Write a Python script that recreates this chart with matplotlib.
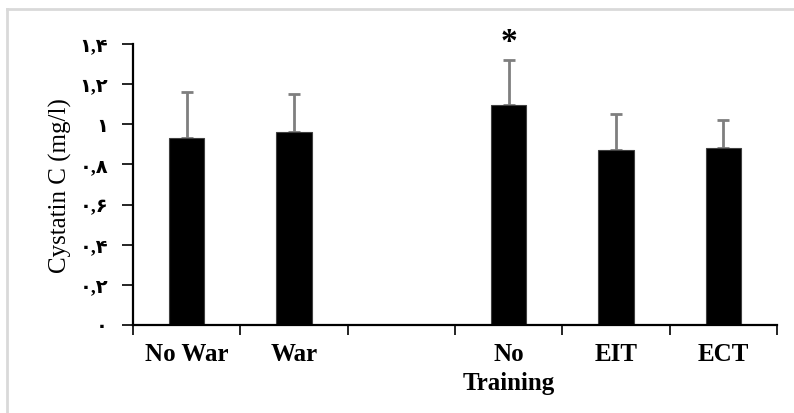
import numpy as np
import matplotlib
matplotlib.use("Agg")
import matplotlib.pyplot as plt
from matplotlib.lines import Line2D

# Cystatin C by group (mg/l); the empty slot separates the two groupings
categories = ["No War", "War", "", "No\nTraining", "EIT", "ECT"]
means = [0.934, 0.963, np.nan, 1.095, 0.872, 0.882]
sds = [0.227, 0.188, np.nan, 0.227, 0.177, 0.139]
yticks = [0, 0.2, 0.4, 0.6, 0.8, 1.0, 1.2, 1.4]
ytick_labels = ["۰", "۰,۲", "۰,۴", "۰,۶", "۰,۸", "۱", "۱,۲", "۱,۴"]
significant = [False, False, False, True, False, False]

W, H = 794, 414
fig = plt.figure(figsize=(W / 100, H / 100), dpi=100)
fig.patch.set_facecolor("white")

# light frame around the chart area
fig.add_artist(Line2D([7 / W, 7 / W], [0, 1 - 10 / H], color="#d9d9d9",
                      lw=2, transform=fig.transFigure))
fig.add_artist(Line2D([7 / W, 1], [1 - 10 / H, 1 - 10 / H], color="#d9d9d9",
                      lw=2, transform=fig.transFigure))

left, right, bottom, top = 133, 777, 326, 45
ax = fig.add_axes([left / W, 1 - bottom / H, (right - left) / W, (bottom - top) / H])

x = np.arange(len(categories))
ax.bar(x, means, width=0.33, color="black", edgecolor="#404040", linewidth=0.8, zorder=2)
ax.errorbar(x, means, yerr=[np.zeros(len(sds)), sds], fmt="none",
            ecolor="#7f7f7f", elinewidth=2, capsize=4.5, capthick=2, zorder=1)

for xi, m, s, sig in zip(x, means, sds, significant):
    if sig:
        ax.text(xi, m + s + 0.012, "*", ha="center", va="bottom",
                fontsize=24, fontweight="bold", family="Liberation Serif")

ax.set_xlim(-0.5, len(categories) - 0.5)
ax.set_ylim(0, 1.4)

for s in ["top", "right"]:
    ax.spines[s].set_visible(False)
for s in ["left", "bottom"]:
    ax.spines[s].set_linewidth(1.6)
    ax.spines[s].set_color("black")

ax.set_yticks(yticks)
ax.set_yticklabels(ytick_labels, family=["Liberation Serif", "DejaVu Sans"],
                   fontweight="bold", fontsize=14)
ax.tick_params(axis="y", direction="out", length=8, width=1.2, pad=10)

ax.set_xticks(x)
ax.set_xticklabels(categories, family="Liberation Serif", fontweight="bold",
                   fontsize=18, linespacing=1.35)
ax.tick_params(axis="x", which="major", length=0, pad=12)
ax.set_xticks(np.arange(-0.5, len(categories)), minor=True)
ax.tick_params(axis="x", which="minor", direction="out", length=7, width=1.2)

fig.text(60 / W, 1 - 186 / H, "Cystatin C (mg/l)", rotation=90, ha="center",
         va="center", family="Liberation Serif", fontsize=18)

fig.savefig("out.png", dpi=100)
